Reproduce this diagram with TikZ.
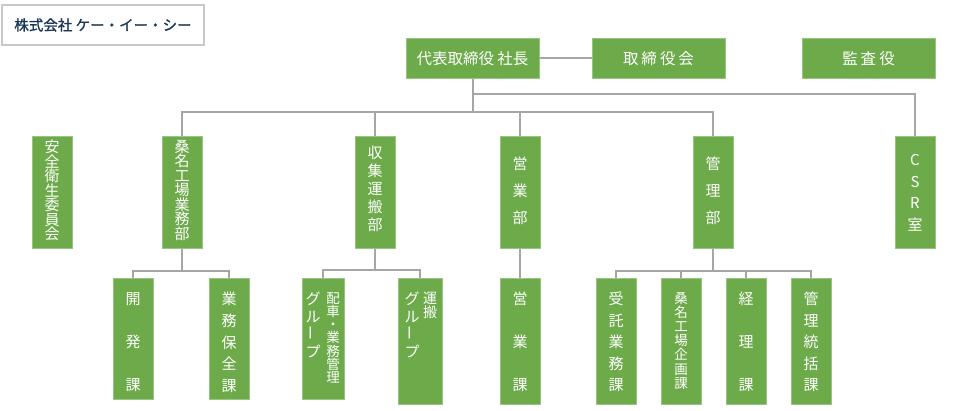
\documentclass[tikz,border=0pt]{standalone}
\usepackage{fontspec}
\usepackage{graphicx}
\newfontfamily\jp{Noto Sans CJK JP}
\newfontfamily\jpcorp{Noto Sans CJK JP}[FakeBold=1.2]
\definecolor{boxgreen}{RGB}{108,170,74}
\definecolor{boxedge}{RGB}{152,198,130}
\definecolor{linegray}{RGB}{166,166,166}
\definecolor{corpnavy}{RGB}{28,56,86}
\definecolor{corpedge}{RGB}{200,200,200}
\newcommand{\vbar}{\rotatebox{90}{ー}}
\newcommand{\kgap}{\hspace{3pt}}

\begin{document}
\begin{tikzpicture}[x=1pt, y=-1pt,
    unit/.style={fill=boxgreen, draw=boxedge, line width=0.8pt,
        inner sep=0pt, text=white, anchor=north},
    head/.style={unit, minimum width=133, minimum height=40,
        font=\jp\fontsize{15.5}{18}\selectfont},
    dept/.style={unit, minimum width=40, minimum height=112},
    sect/.style={unit, minimum width=40, minimum height=#1},
    vl/.style 2 args={text=white, inner sep=0pt, anchor=north,
        align=center, font=\jp\fontsize{#1}{#2}\selectfont},
    link/.style={draw=linegray, line width=2pt},
    corp/.style={draw=corpedge, line width=1.2pt, text=corpnavy,
        minimum width=202, minimum height=40,
        font=\jpcorp\fontsize{14.5}{16}\selectfont}]

    \useasboundingbox (0, 0) rectangle (962, 411);

    \node[corp] (corp) at (103, 25) {株式会社 ケー・イー・シー};

    \node[head] (ceo) at (472.5, 38) {代表取締役 社長};
    \node[head] (board) at (658.5, 38) {取\kgap 締\kgap 役\kgap 会};
    \node[head] (audit) at (868.5, 38) {監\kgap 査\kgap 役};

    \node[dept, label={[vl={15}{14.5}, yshift=-4]north:{安\\全\\衛\\生\\委\\員\\会}}]
        (anzen) at (52, 136) {};
    \node[dept, label={[vl={15}{14.5}, yshift=-4]north:{桑\\名\\工\\場\\業\\務\\部}}]
        (kuwana) at (182, 136) {};
    \node[dept, label={[vl={15}{18}, yshift=-10]north:{収\\集\\運\\搬\\部}}]
        (shuu) at (375, 136) {};
    \node[dept, label={[vl={15}{27}, yshift=-21]north:{営\\業\\部}}]
        (eigyou) at (520, 136) {};
    \node[dept, label={[vl={15}{27}, yshift=-21]north:{管\\理\\部}}]
        (kanri) at (713, 136) {};
    \node[dept, label={[vl={15}{21.7}, yshift=-18]north:{C\\S\\R\\室}}]
        (csr) at (915, 136) {};

    \node[sect=121, label={[vl={15}{43}, yshift=-14]north:{開\\発\\課}}]
        (kaihatsu) at (133, 278) {};
    \node[sect=121, label={[vl={15}{21.7}, yshift=-14]north:{業\\務\\保\\全\\課}}]
        (hozen) at (229, 278) {};
    \node[sect=121, minimum width=42,
        label={[vl={13.5}{13.3}, xshift=10, yshift=-14]north:{配\\車\\・\\業\\務\\管\\理}},
        label={[vl={15}{17.7}, xshift=-10, yshift=-14]north:{グ\\ル\\\vbar\\プ}}]
        (haisha) at (323, 278) {};
    \node[sect=126, minimum width=44,
        label={[vl={14}{14}, xshift=10, yshift=-14]north:{運\\搬}},
        label={[vl={15}{17.7}, xshift=-8, yshift=-14]north:{グ\\ル\\\vbar\\プ}}]
        (unpan) at (420, 278) {};
    \node[sect=126, label={[vl={15}{43}, yshift=-14]north:{営\\業\\課}}]
        (eigyouka) at (520, 278) {};
    \node[sect=126, label={[vl={15}{21.5}, yshift=-14]north:{受\\託\\業\\務\\課}}]
        (jutaku) at (616, 278) {};
    \node[sect=126, label={[vl={13.5}{14.2}, yshift=-14]north:{桑\\名\\工\\場\\企\\画\\課}}]
        (kikaku) at (681, 278) {};
    \node[sect=126, label={[vl={15}{43}, yshift=-14]north:{経\\理\\課}}]
        (keiri) at (746, 278) {};
    \node[sect=126, label={[vl={15}{21.5}, yshift=-14]north:{管\\理\\統\\括\\課}}]
        (toukatsu) at (811, 278) {};

    \draw[link] (ceo) -- (board);
    \draw[link] (ceo.south) -- ++(0, 15) -| (csr.north);
    \draw[link] (ceo.south) -- ++(0, 33) coordinate (bus);
    \foreach \d in {kuwana,shuu,eigyou,kanri}
        \draw[link] (bus) -| (\d.north);

    \draw[link] (kuwana.south) -- ++(0, 22) coordinate (kbus);
    \foreach \s in {kaihatsu,hozen}
        \draw[link] (kbus) -| (\s.north);

    \draw[link] (shuu.south) -- ++(0, 21) coordinate (sbus);
    \foreach \s in {haisha,unpan}
        \draw[link] (sbus) -| (\s.north);

    \draw[link] (eigyou) -- (eigyouka);

    \draw[link] (kanri.south) -- ++(0, 22) coordinate (mbus);
    \foreach \s in {jutaku,kikaku,keiri,toukatsu}
        \draw[link] (mbus) -| (\s.north);

\end{tikzpicture}
\end{document}
